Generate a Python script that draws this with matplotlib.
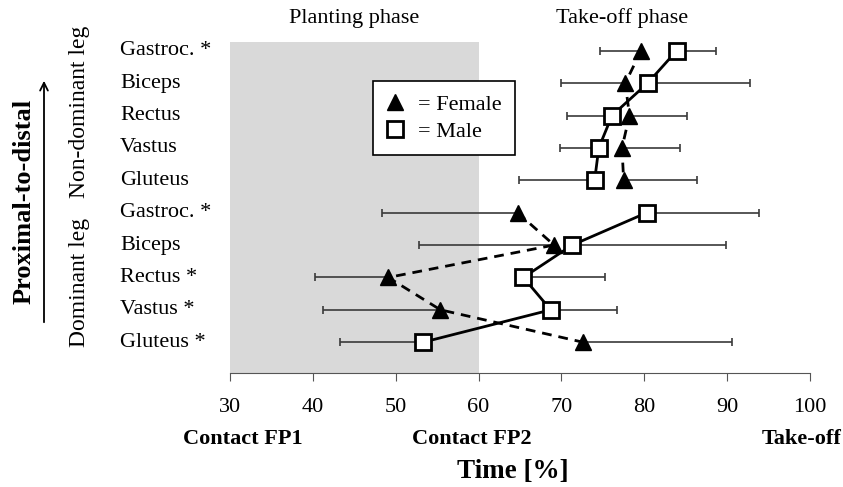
import numpy as np
import matplotlib
matplotlib.use("Agg")
import matplotlib.pyplot as plt
import matplotlib.transforms as mtransforms
from matplotlib.lines import Line2D
from matplotlib.patches import FancyArrowPatch

plt.rcParams["font.family"] = ["Liberation Serif", "DejaVu Serif"]

# rows from top (non-dominant Gastroc.) to bottom (dominant Gluteus)
muscles = ["Gastroc. *", "Biceps", "Rectus", "Vastus", "Gluteus",
           "Gastroc. *", "Biceps", "Rectus *", "Vastus *", "Gluteus *"]
female = [79.6, 77.7, 78.2, 77.3, 77.5, 64.7, 69.1, 49.1, 55.4, 72.6]
male = [83.9, 80.4, 76.1, 74.5, 74.0, 80.3, 71.3, 65.4, 68.7, 53.3]
female_sd = [5.0, 7.7, 7.0, 7.0, 8.9, 16.3, 16.3, 8.9, 14.2, 18.0]
male_sd = [4.7, 12.3, 5.4, 4.7, 9.1, 13.5, 18.6, 9.9, 8.0, 10.0]
xticks = [30, 40, 50, 60, 70, 80, 90, 100]
events = {"Contact FP1": 31.6, "Contact FP2": 59.2, "Take-off": 99}

female = np.array(female)
male = np.array(male)
female_sd = np.array(female_sd)
male_sd = np.array(male_sd)
n = len(muscles)
ypos = np.arange(n, 0, -1)

fig = plt.figure(figsize=(8.43, 4.87), dpi=100)
ax = fig.add_axes([0.2728, 0.2341, 0.6882, 0.6797])

ax.axvspan(30, 60, color="#d9d9d9", lw=0, zorder=0)

# one-sided SD bars pointing away from the other group
f_left = female < male
f_err = np.vstack([np.where(f_left, female_sd, 0), np.where(f_left, 0, female_sd)])
m_err = np.vstack([np.where(f_left, 0, male_sd), np.where(f_left, male_sd, 0)])
ax.errorbar(female, ypos, xerr=f_err, fmt="none", ecolor="#3a3a3a",
            elinewidth=1.2, capsize=3, capthick=1.2, zorder=2)
ax.errorbar(male, ypos, xerr=m_err, fmt="none", ecolor="#3a3a3a",
            elinewidth=1.2, capsize=3, capthick=1.2, zorder=2)

for grp in (slice(0, 5), slice(5, 10)):
    ax.plot(female[grp], ypos[grp], color="black", lw=2, ls=(0, (3.5, 2.5)), zorder=3)
    ax.plot(male[grp], ypos[grp], color="black", lw=2, ls="-", zorder=3)
ax.plot(female, ypos, ls="none", marker="^", ms=12, mfc="black", mec="black", zorder=4)
ax.plot(male, ypos, ls="none", marker="s", ms=11, mfc="white", mec="black", mew=2, zorder=5)

ax.set_xlim(30, 100)
ax.set_ylim(0.05, 10.27)
ax.set_xticks(xticks)
ax.tick_params(axis="x", labelsize=16, length=6, color="#555555", pad=12)
ax.set_yticks([])
for s in ("top", "right", "left"):
    ax.spines[s].set_visible(False)
ax.spines["bottom"].set_color("#555555")

# muscle names
trans_fy = mtransforms.blended_transform_factory(fig.transFigure, ax.transData)
for lab, y in zip(muscles, ypos):
    ax.text(120 / 843, y, lab, fontsize=16, ha="left", va="center", transform=trans_fy)

trans_xa = mtransforms.blended_transform_factory(ax.transData, ax.transAxes)
for name, xv in events.items():
    ax.text(xv, -0.199, name, transform=trans_xa, ha="center", va="center",
            fontsize=16, fontweight="bold")
ax.text(45, 1.072, "Planting phase", transform=trans_xa, ha="center", va="center", fontsize=16)
ax.text(77.3, 1.072, "Take-off phase", transform=trans_xa, ha="center", va="center", fontsize=16)
fig.text(513 / 843, 1 - 472 / 487, "Time [%]", ha="center", va="center",
         fontsize=19.5, fontweight="bold")

fig.text(24 / 843, 1 - 201 / 487, "Proximal-to-distal", rotation=90, ha="center",
         va="center", fontsize=19, fontweight="bold")
fig.text(79 / 843, 1 - 112 / 487, "Non-dominant leg", rotation=90, ha="center",
         va="center", fontsize=17)
fig.text(79 / 843, 1 - 282 / 487, "Dominant leg", rotation=90, ha="center",
         va="center", fontsize=17)
fig.add_artist(FancyArrowPatch(
    (44 / 843, 1 - 325 / 487), (44 / 843, 1 - 78 / 487), transform=fig.transFigure,
    arrowstyle="->", mutation_scale=14, lw=1.3, color="black"))

handles = [Line2D([], [], ls="none", marker="^", ms=12, mfc="black", mec="black"),
           Line2D([], [], ls="none", marker="s", ms=11, mfc="white", mec="black", mew=2)]
leg = ax.legend(handles, ["= Female", "= Male"], loc="upper left",
                bbox_to_anchor=(0.247, 0.883), borderaxespad=0, fancybox=False,
                edgecolor="black", framealpha=1, fontsize=16, handletextpad=0.6,
                handlelength=0.8, borderpad=0.6, labelspacing=0.3)
leg.get_frame().set_linewidth(1.2)

fig.savefig("out.png", dpi=100)
